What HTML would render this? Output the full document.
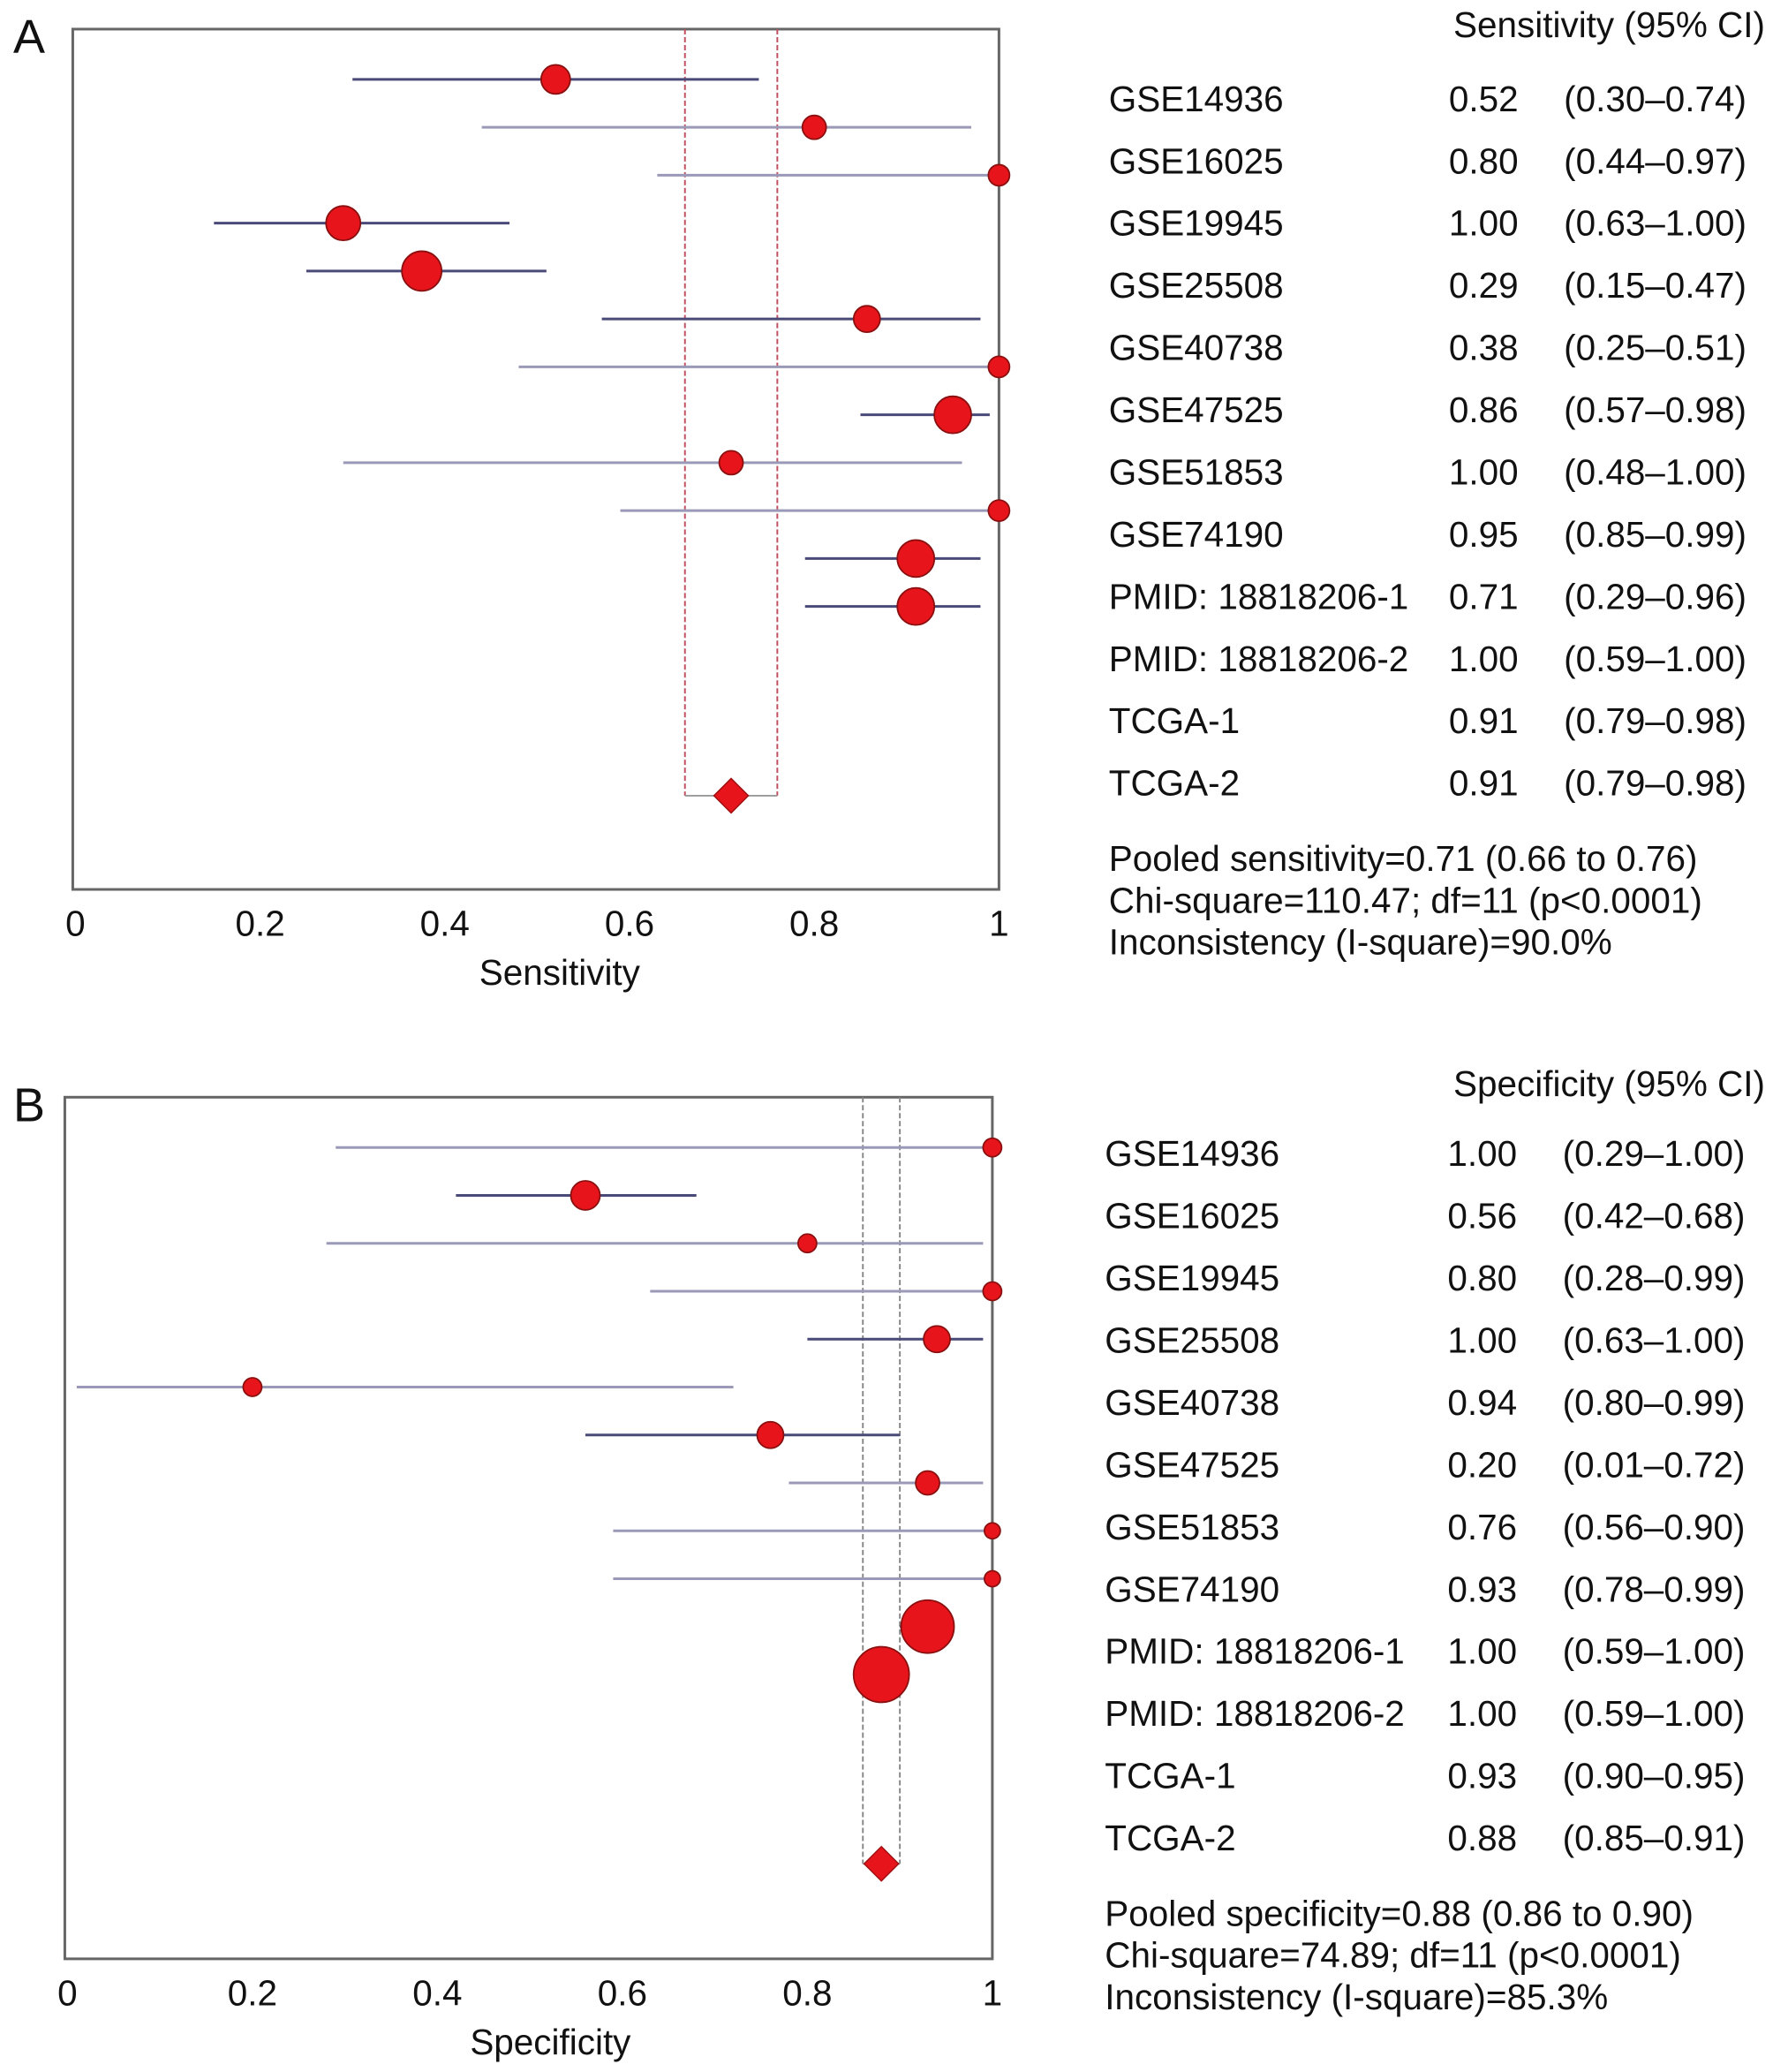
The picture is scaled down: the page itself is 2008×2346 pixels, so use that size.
<!DOCTYPE html>
<html><head><meta charset="utf-8"><style>
html,body{margin:0;padding:0;background:#fff}
svg{display:block}
text{font-family:"Liberation Sans",Arial,sans-serif;fill:#111}
</style></head><body>
<svg id="fig" width="2008" height="2346" viewBox="0 0 1340 1565.5" preserveAspectRatio="none" xmlns="http://www.w3.org/2000/svg">
</svg>
<script>
const studies = ["GSE14936","GSE16025","GSE19945","GSE25508","GSE40738","GSE47525","GSE51853","GSE74190","PMID: 18818206-1","PMID: 18818206-2","TCGA-1","TCGA-2"];
const sensValues = [0.52,0.80,1.00,0.29,0.375,0.857,1.00,0.95,0.71,1.00,0.91,0.91];
const sensLow = [0.30,0.44,0.63,0.15,0.25,0.57,0.48,0.85,0.29,0.59,0.79,0.79];
const sensHigh = [0.74,0.97,1.00,0.47,0.51,0.98,1.00,0.99,0.96,1.00,0.98,0.98];
const sensWeight = [11,9,8,13,15,10,8,14,9,8,14,14];
const sensText = ["0.52","0.80","1.00","0.29","0.38","0.86","1.00","0.95","0.71","1.00","0.91","0.91"];
const sensCI = ["(0.30–0.74)","(0.44–0.97)","(0.63–1.00)","(0.15–0.47)","(0.25–0.51)","(0.57–0.98)","(0.48–1.00)","(0.85–0.99)","(0.29–0.96)","(0.59–1.00)","(0.79–0.98)","(0.79–0.98)"];
const sensPooled = [0.71,0.66,0.76];
const specValues = [1.00,0.56,0.80,1.00,0.94,0.20,0.76,0.93,1.00,1.00,0.93,0.88];
const specLow = [0.29,0.42,0.28,0.63,0.80,0.01,0.56,0.78,0.59,0.59,0.90,0.85];
const specHigh = [1.00,0.68,0.99,1.00,0.99,0.72,0.90,0.99,1.00,1.00,0.95,0.91];
const specWeight = [7,11,7,7,10,7,10,9,6,6,20,21];
const specText = ["1.00","0.56","0.80","1.00","0.94","0.20","0.76","0.93","1.00","1.00","0.93","0.88"];
const specCI = ["(0.29–1.00)","(0.42–0.68)","(0.28–0.99)","(0.63–1.00)","(0.80–0.99)","(0.01–0.72)","(0.56–0.90)","(0.78–0.99)","(0.59–1.00)","(0.59–1.00)","(0.90–0.95)","(0.85–0.91)"];
const specPooled = [0.88,0.86,0.90];
const tickValues = [0,0.2,0.4,0.6,0.8,1];
const tickLabels = ["0","0.2","0.4","0.6","0.8","1"];

const svg = document.getElementById('fig');
const NS = "http://www.w3.org/2000/svg";
const FS = 27;
function mk(tag, attrs, parent){const e=document.createElementNS(NS,tag);for(const k in attrs)e.setAttribute(k,attrs[k]);(parent||svg).appendChild(e);return e;}
function txt(x,y,s,size,anchor,parent){const t=mk('text',{x:x,y:y,'font-size':size,'text-anchor':anchor||'start'},parent);t.textContent=s;return t;}

function panel(cfg){
  const g = mk('g',{});
  
  
  const xs = v => cfg.x0 + v*(cfg.x1-cfg.x0);
  const ys = i => cfg.rowTop + i*cfg.rowStep;
  const letter = txt(cfg.letterX, cfg.boxTop+18, cfg.letter, 36, 'start', g);
  
  
  const box = mk('rect',{x:cfg.boxL,y:cfg.boxTop,width:cfg.boxR-cfg.boxL,height:cfg.boxBot-cfg.boxTop,fill:'none',stroke:'#666','stroke-width':2},g);
  
  
  const pl = cfg.pooled;
  const yD = ys(0) + (cfg.values.length+2.95)*cfg.rowStep;
  [pl[1],pl[2]].forEach(v=>{
    const l = mk('line',{x1:xs(v),x2:xs(v),y1:cfg.boxTop,y2:yD,stroke:cfg.dashColor,'stroke-width':1.3,'stroke-dasharray':'4,2'},g);
    
    
  });
  const bl = mk('line',{x1:xs(pl[1]),x2:xs(pl[2]),y1:yD,y2:yD,stroke:'#999','stroke-width':1.3},g);
  
  
  cfg.values.forEach((v,i)=>{
    const y = ys(i);
    const l = mk('line',{x1:xs(cfg.low[i]),x2:xs(cfg.high[i]),y1:y,y2:y,stroke:cfg.weights[i]>=10?'#4a4a78':'#9a9ab8','stroke-width':2},g);
    
    
    const c = mk('circle',{cx:xs(v),cy:y,r:cfg.weights[i],fill:'#e8141c',stroke:'#8a1010','stroke-width':1.2},g);
    
    
    const n = txt(cfg.tx, cfg.tyTop+i*47, studies[i], FS, 'start', g);
    
    
    const vv = txt(cfg.vx, cfg.tyTop+i*47, cfg.vText[i], FS, 'start', g);
    
    
    const ci = txt(cfg.cx, cfg.tyTop+i*47, cfg.ciText[i], FS, 'end', g);
    
    
  });
  const d = 13, px = xs(pl[0]);
  const dia = mk('polygon',{points:`${px},${yD-d} ${px+d},${yD} ${px},${yD+d} ${px-d},${yD}`,fill:'#e8141c',stroke:'#a01010','stroke-width':1},g);
  
  
  tickValues.forEach((v,k)=>{
    const t = txt(xs(v), cfg.boxBot+35, tickLabels[k], FS, 'middle', g);
    
    
  });
  const at = txt(cfg.axisTitleX, cfg.boxBot+72, cfg.axisTitle, FS, 'middle', g);
  
  
  const h = txt(1334, cfg.headerY, cfg.header, FS, 'end', g);
  
  
  cfg.summary.forEach((s,k)=>{
    const t = txt(cfg.tx, cfg.sumY+k*31.5, s, FS, 'start', g);
    
    
  });
}

panel({id:'sensitivity',letter:'A',letterX:10,boxL:55,boxR:755,boxTop:22,boxBot:672,x0:57,x1:755,
  rowTop:60,rowStep:36.2,values:sensValues,low:sensLow,high:sensHigh,weights:sensWeight,pooled:sensPooled,dashColor:'#c05060',
  tx:838,vx:1095,cx:1320,tyTop:84,vText:sensText,ciText:sensCI,axisTitle:'Sensitivity',axisTitleX:423,
  header:'Sensitivity (95% CI)',headerY:28,sumY:658,
  summary:['Pooled sensitivity=0.71 (0.66 to 0.76)','Chi-square=110.47; df=11 (p<0.0001)','Inconsistency (I-square)=90.0%']});
panel({id:'specificity',letter:'B',letterX:10,boxL:49,boxR:750,boxTop:829,boxBot:1480,x0:51,x1:750,
  rowTop:867,rowStep:36.2,values:specValues,low:specLow,high:specHigh,weights:specWeight,pooled:specPooled,dashColor:'#888',
  tx:835,vx:1094,cx:1319,tyTop:881,vText:specText,ciText:specCI,axisTitle:'Specificity',axisTitleX:416,
  header:'Specificity (95% CI)',headerY:828,sumY:1455,
  summary:['Pooled specificity=0.88 (0.86 to 0.90)','Chi-square=74.89; df=11 (p<0.0001)','Inconsistency (I-square)=85.3%']});
</script>
</body></html>
